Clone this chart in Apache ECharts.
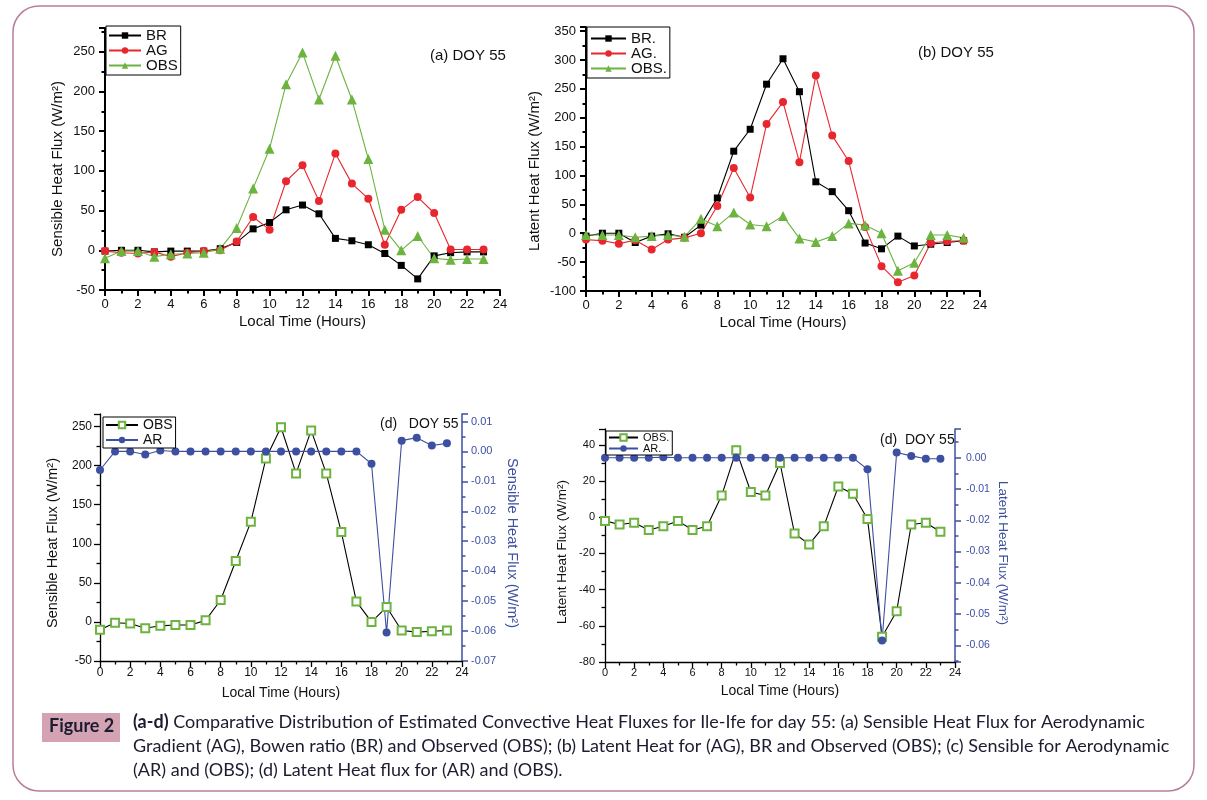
<!DOCTYPE html>
<html><head><meta charset="utf-8">
<script src="https://cdn.jsdelivr.net/npm/echarts@6/dist/echarts.min.js"></script>
<style>html,body{margin:0;padding:0;background:#fff}#c{width:1207px;height:800px}</style>
</head><body><div id="c"></div>
<script>
const hours = [0,1,2,3,4,5,6,7,8,9,10,11,12,13,14,15,16,17,18,19,20,21,22,23];
// (a) Sensible heat flux
const aBR  = [-1,0,0,-2,-1,-1,-1,2,10,27,35,51,57,46,15,12,7,-4,-19,-36,-7,-3,-2,-2];
const aAG  = [-1,-3,-4,-2,-8,-3,-1,0,11,42,26,87,107,62,122,84,65,7,51,67,47,1,1,1];
const aOBS = [-10,-1,-1,-8,-5,-4,-3,2,28,78,128,209,249,190,245,190,115,26,0,18,-10,-12,-11,-11];
// (b) Latent heat flux
const bBR  = [-5,0,0,-16,-5,-1,-7,14,61,142,180,258,302,245,89,72,39,-17,-27,-5,-22,-19,-16,-13];
const bAG  = [-11,-13,-18,-12,-28,-11,-8,0,47,113,62,189,227,123,273,169,125,11,-57,-85,-73,-17,-14,-13];
const bOBS = [-3,-3,-3,-7,-5,-3,-6,25,12,36,15,12,30,-9,-15,-5,17,14,0,-65,-51,-3,-3,-8];
// (c) Sensible: OBS (left) and AR (right)
const cOBS = [-10,-1,-2,-8,-5,-4,-4,2,28,78,128,209,249,190,245,190,115,26,0,19,-11,-13,-12,-11];
const cAR  = [-0.0062,0,0,-0.001,0.0003,0,0,0,0,0,0,0,0,0,0,0,0,0,-0.0041,-0.0605,0.0036,0.0046,0.002,0.0027];
// (d) Latent: OBS (left) and AR (right)
const dOBS = [-2,-4,-3,-7,-5,-2,-7,-5,12,37,14,12,30,-9,-15,-5,17,13,-1,-66,-52,-4,-3,-8];
const dAR  = [0,0,0,0,0.0002,0,0,0,0,0,0,0,0,0,0,0,0,0,-0.0037,-0.0584,0.0017,0.0006,-0.0003,-0.0003];

const xTicks = {min:0, max:24, interval:2};
const FONT = 'Liberation Sans, Arial, sans-serif';
const NARROW = '"Liberation Sans Narrow", "Arial Narrow", sans-serif';
const INK = '#111';
const RED = '#e8262d', GREEN = '#6cb33f', BLUE = '#3d4fa0';

function pairs(arr){ return hours.map((h,i)=>[h, arr[i]]); }
function stepFmt(step, dec){
  return v => { const r = v/step; return Math.abs(r-Math.round(r))<1e-6 ? (dec==null? String(Math.round(v)) : v.toFixed(dec)) : ''; };
}
function xAxis(grid, fs, nameFs, gap, lw, margin){
  return {type:'value', gridIndex:grid, min:xTicks.min, max:xTicks.max, interval:xTicks.interval,
    name:'Local Time (Hours)', nameLocation:'middle', nameGap:gap,
    nameTextStyle:{fontFamily:FONT, fontSize:nameFs, color:INK},
    axisLine:{onZero:false, lineStyle:{color:'#000', width:lw}},
    axisTick:{length:6, lineStyle:{color:'#000', width:lw}},
    minorTick:{show:true, splitNumber:2, length:3.5, lineStyle:{color:'#000', width:lw}},
    splitLine:{show:false},
    axisLabel:{fontFamily:FONT, fontSize:fs, color:INK, margin:margin}};
}
function yAxis(grid, o){
  const col = o.color || '#000';
  return {type:'value', gridIndex:grid, position:o.pos||'left', min:o.min, max:o.max,
    interval:o.interval, minInterval:o.minInterval, maxInterval:o.maxInterval,
    name:o.name, nameLocation:'middle', nameGap:o.gap, nameRotate:o.rot,
    nameTextStyle:{fontFamily:NARROW, fontSize:o.nameFs, color:o.labelColor||INK, padding:o.pad},
    axisLine:{show:true, onZero:false, lineStyle:{color:col, width:o.lw}},
    axisTick:{show:true, length:6, lineStyle:{color:col, width:o.lw}},
    minorTick:{show:true, splitNumber:2, length:3.5, lineStyle:{color:col, width:o.lw}},
    splitLine:{show:false},
    axisLabel:{fontFamily:FONT, fontSize:o.fs, color:o.labelColor||INK, margin:o.margin, formatter:o.fmt}};
}
function line(name, x, y, data, color, symbol, size, lineColor, extra){
  return Object.assign({type:'line', name:name, xAxisIndex:x, yAxisIndex:y, data:pairs(data),
    symbol:symbol, symbolSize:size, showSymbol:true, animation:false,
    lineStyle:{color:lineColor||color, width:1.1},
    itemStyle:{color:color}}, extra||{});
}
const legendNames = {aBR:'BR', aAG:'AG', aOBS:'OBS', bBR:'BR.', bAG:'AG.', bOBS:'OBS.', cOBS:'OBS', cAR:'AR', dOBS:'OBS.', dAR:'AR.'};
function legend(names, left, top, fs, lh, gap, iw, pad){
  return {data:names, orient:'vertical', left:left, top:top, itemGap:gap, itemWidth:iw, itemHeight:8,
    padding:pad, borderColor:'#000', borderWidth:1, backgroundColor:'#fff', borderRadius:0,
    textStyle:{fontFamily:FONT, fontSize:fs, lineHeight:lh, color:INK},
    formatter:n=>legendNames[n], selectedMode:false};
}
const caption = [
  '{b|(a-d)} Comparative Distribution of Estimated Convective Heat Fluxes for Ile-Ife for day 55: (a) Sensible Heat Flux for Aerodynamic',
  'Gradient (AG), Bowen ratio (BR) and Observed (OBS); (b) Latent Heat for (AG), BR and Observed (OBS); (c) Sensible for Aerodynamic',
  '(AR) and (OBS); (d) Latent Heat flux for (AR) and (OBS).'
];
const CAPF = 'Lato, "Open Sans", sans-serif';
const CAPS = 18;

const chart = echarts.init(document.getElementById('c'), null, {renderer:'canvas'});
chart.setOption({
  animation:false,
  backgroundColor:'#fff',
  grid:[
    {left:105, top:28, width:395, height:262},
    {left:586, top:27, width:394, height:264},
    {left:100, top:414, width:362, height:247},
    {left:605, top:429, width:350, height:233}
  ],
  xAxis:[xAxis(0,13,15,24,2,8), xAxis(1,13,15,24,2,8), xAxis(2,12,14,25,1.3,6), xAxis(3,11,14,22,1.3,5)],
  yAxis:[
    yAxis(0,{min:-50,max:280,interval:50,fmt:stepFmt(50),name:'Sensible Heat Flux (W/m²)',gap:39.5,nameFs:15,fs:13,lw:2,margin:10,pad:[0,20,0,0]}),
    yAxis(1,{min:-100,max:357,interval:50,fmt:stepFmt(50),name:'Latent Heat Flux (W/m²)',gap:43.5,nameFs:15,fs:13,lw:2,margin:10,pad:[0,24,0,0]}),
    yAxis(2,{min:-50,max:266,interval:50,fmt:stepFmt(50),name:'Sensible Heat Flux (W/m²)',gap:40,nameFs:14.5,fs:12,lw:1.3,margin:8,pad:[0,11,0,0]}),
    yAxis(2,{pos:'right',min:-0.07,max:0.0125,interval:0.01,fmt:stepFmt(0.01,2),name:'Sensible Heat Flux (W/m²)',gap:42.5,rot:-90,nameFs:14.5,fs:11,lw:1.5,color:BLUE,labelColor:BLUE,margin:9,pad:[0,0,0,11]}),
    yAxis(3,{min:-80,max:48.8,interval:20,fmt:stepFmt(20),name:'Latent Heat Flux (W/m²)',gap:36,nameFs:13.5,fs:11,lw:1.3,margin:10,pad:[0,13,0,0]}),
    yAxis(3,{pos:'right',min:-0.0653,max:0.0092,minInterval:0.01,maxInterval:0.01,fmt:stepFmt(0.01,2),name:'Latent Heat Flux (W/m²)',gap:41,rot:-90,nameFs:13.5,fs:10.5,lw:1.5,color:BLUE,labelColor:BLUE,margin:11,pad:[0,0,0,15]})
  ],
  legend:[
    legend(['aBR','aAG','aOBS'],106,26,15,15,0,32,[2,3,2,2]),
    legend(['bBR','bAG','bOBS'],587,27,15,15,0,35,[4,3,2,3]),
    legend(['cOBS','cAR'],103,417,14,14,1,32,[1,3,1,2]),
    legend(['dOBS','dAR'],606,431,11,11,0,29,[1,3,1,2])
  ],
  series:[
    line('aBR',0,0,aBR,'#000','rect',7),
    line('aAG',0,0,aAG,RED,'circle',8),
    line('aOBS',0,0,aOBS,GREEN,'triangle',10),
    line('bBR',1,1,bBR,'#000','rect',7),
    line('bAG',1,1,bAG,RED,'circle',8),
    line('bOBS',1,1,bOBS,GREEN,'triangle',10),
    line('cOBS',2,2,cOBS,GREEN,'emptyRect',8,'#000',{itemStyle:{color:GREEN,borderWidth:1.2}}),
    line('cAR',2,3,cAR,BLUE,'circle',8,BLUE),
    line('dOBS',3,4,dOBS,GREEN,'emptyRect',8,'#000',{itemStyle:{color:GREEN,borderWidth:1.2}}),
    line('dAR',3,5,dAR,BLUE,'circle',8,BLUE)
  ],
  graphic:[
    {type:'rect', shape:{x:13,y:6,width:1181,height:785,r:26}, style:{fill:null, stroke:'#b87d9c', lineWidth:1.5}, silent:true, z:-1},
    {type:'text', left:430, top:48, style:{text:'(a) DOY 55', font:'15px '+FONT, fill:INK}},
    {type:'text', left:918, top:45, style:{text:'(b) DOY 55', font:'15px '+FONT, fill:INK}},
    {type:'text', left:380, top:417, style:{text:'(d)   DOY 55', font:'14px '+FONT, fill:INK}},
    {type:'text', left:880, top:433, style:{text:'(d)  DOY 55', font:'14px '+FONT, fill:INK}},
    {type:'rect', shape:{x:42,y:713,width:78,height:29}, style:{fill:'#d4a3b3'}},
    {type:'text', left:49, top:717, style:{text:'Figure 2', font:'bold 18px '+CAPF, fill:'#1c1c30'}},
    {type:'text', left:133, top:713, style:{text:caption[0], font:CAPS+'px '+CAPF, fill:'#1c1c30', rich:{b:{fontWeight:'bold', fontSize:CAPS, fontFamily:CAPF, fill:'#1c1c30'}}}},
    {type:'text', left:133, top:737, style:{text:caption[1], font:CAPS+'px '+CAPF, fill:'#1c1c30'}},
    {type:'text', left:133, top:761, style:{text:caption[2], font:CAPS+'px '+CAPF, fill:'#1c1c30'}}
  ]
});
</script></body></html>
